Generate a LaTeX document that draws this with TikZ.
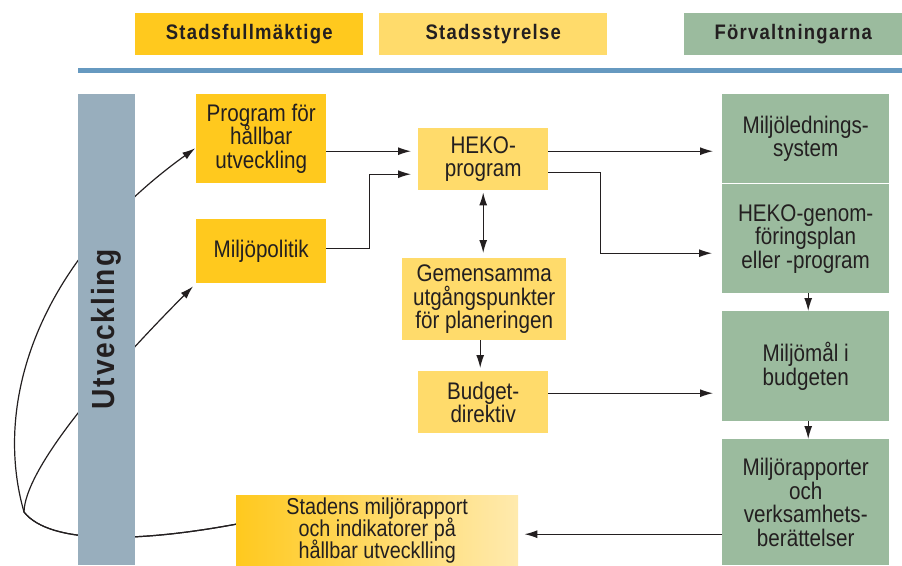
\documentclass[tikz,border=0pt]{standalone}
\usepackage{fontspec}
\setmainfont{Liberation Sans}[FakeStretch=0.86]
\newfontfamily\headfont{Liberation Sans}[FakeStretch=0.88, LetterSpace=6]
\usetikzlibrary{arrows.meta,backgrounds}

\newcommand\tightlines{\lineskiplimit=-20pt\relax}

\definecolor{ink}{HTML}{231F20}
\definecolor{fullmyellow}{HTML}{FFC91E}
\definecolor{styryellow}{HTML}{FFDB6B}
\definecolor{paleyellow}{HTML}{FFEAAE}
\definecolor{forvgreen}{HTML}{9BBB9E}
\definecolor{barblue}{HTML}{98AEBD}
\definecolor{ruleblue}{HTML}{6699C0}

\tikzset{
  box/.style={inner sep=0pt, anchor=north west, align=center, text=ink,
    font=\fontsize{24}{23.5}\selectfont\tightlines},
  fullmbox/.style={box, fill=fullmyellow},
  styrbox/.style={box, fill=styryellow},
  forvbox/.style={box, fill=forvgreen},
  headbox/.style={inner sep=0pt, anchor=north west, minimum height=42pt,
    text=ink, font=\headfont\bfseries\fontsize{21}{22}\selectfont},
  arr/.style={draw=ink, line width=1.2pt, -{Latex[length=13pt,width=8pt]}},
  arrboth/.style={arr, {Latex[length=13pt,width=8pt]}-{Latex[length=13pt,width=8pt]}}
}

\begin{document}
\begin{tikzpicture}[x=1pt,y=-1pt]
\useasboundingbox (0,0) rectangle (902,565);

% rubriker
\node (sf) [headbox, fill=fullmyellow, minimum width=228pt] at (135,13) {Stadsfullmäktige};
\node (ss) [headbox, fill=styryellow, minimum width=228pt] at (379,13) {Stadsstyrelse};
\node (fv) [headbox, fill=forvgreen, minimum width=218pt] at (684,13) {Förvaltningarna};
\fill[ruleblue] (78,68) rectangle (902,73);

% Utveckling
\node (utv) [fill=barblue, rotate=90, inner sep=0pt, minimum width=471pt, minimum height=57pt,
  text=ink, font=\headfont\bfseries\fontsize{32}{32}\selectfont] at (106.5,329.5) {Utveckling};

% stadsfullmäktige
\node (prog) [fullmbox, minimum width=130pt, minimum height=89pt] at (196,94) {Program för\\hållbar\\utveckling};
\node (mpol) [fullmbox, minimum width=130pt, minimum height=64pt] at (196,219) {Miljöpolitik};

% stadsstyrelse
\node (heko) [styrbox, minimum width=130pt, minimum height=62pt] at (418,128) {HEKO-\\program};
\node (gem) [styrbox, minimum width=164pt, minimum height=82pt] at (402,258) {Gemensamma\\utgångspunkter\\för planeringen};
\node (bud) [styrbox, minimum width=130pt, minimum height=62pt] at (418,371) {Budget-\\direktiv};
\node (stad) [box, left color=fullmyellow, right color=paleyellow, minimum width=282pt, minimum height=70pt,
  font=\fontsize{23}{22}\selectfont\tightlines]
  at (236,495) {Stadens miljörapport\\och indikatorer på\\hållbar utvecklling};

% förvaltningarna
\node (mls) [forvbox, minimum width=167pt, minimum height=89pt] at (722,94) {Miljölednings-\\system};
\node (gen) [forvbox, minimum width=167pt, minimum height=109pt] at (722,184) {HEKO-genom-\\föringsplan\\eller -program};
\node (mmal) [forvbox, minimum width=167pt, minimum height=110pt] at (722,311) {Miljömål i\\budgeten};
\node (mrap) [forvbox, minimum width=167pt, minimum height=126pt] at (722,439) {Miljörapporter\\och\\verksamhets-\\berättelser};

% pilar
\draw[arr, shorten >=7pt] ([yshift=-12.5pt]prog.east) -- ([yshift=-12.5pt]prog.east -| heko.west);
\draw[arr, shorten >=7pt] ([yshift=3pt]mpol.east) -- ++(43pt,0) |- ([yshift=-15pt]heko.west);
\draw[arr, shorten >=9pt] ([yshift=8pt]heko.east) -- ([yshift=8pt]heko.east -| mls.west);
\draw[arr, shorten >=10pt] ([yshift=-13pt]heko.east) -- ++(52pt,0) |- ([yshift=-14.5pt]gen.west);
\draw[arrboth, shorten <=2pt, shorten >=5pt] (heko.south) -- (heko.south |- gem.north);
\draw[arr, shorten >=3pt] ([xshift=-4pt]gem.south) -- ([xshift=-4pt]gem.south |- bud.north);
\draw[arr, shorten >=9pt] ([yshift=9pt]bud.east) -- ([yshift=9pt]bud.east -| mmal.west);
\draw[arr] ([xshift=2.5pt]gen.south) -- ([xshift=2.5pt]mmal.north);
\draw[arr] ([xshift=2.5pt]mmal.south) -- ([xshift=2.5pt]mrap.north);
\draw[arr, shorten >=6pt] ([yshift=-32pt]mrap.west) -- ([yshift=-32pt]mrap.west -| stad.east);

% återkoppling bakom Utveckling
\coordinate (knot) at (24,512);
\begin{scope}[on background layer]
\draw[arr, shorten >=1pt] ([yshift=6pt]stad.west) .. controls (140,542) and (50,545) .. (knot)
  .. controls (-8,400) and (40,260) .. ([yshift=-9pt]prog.west);
\draw[arr] ([yshift=6pt]stad.west) .. controls (140,542) and (50,545) .. (knot)
  .. controls (25,470) and (100,380) .. ([shift={(-3pt,-3pt)}]mpol.south west);
\end{scope}
\end{tikzpicture}
\end{document}
